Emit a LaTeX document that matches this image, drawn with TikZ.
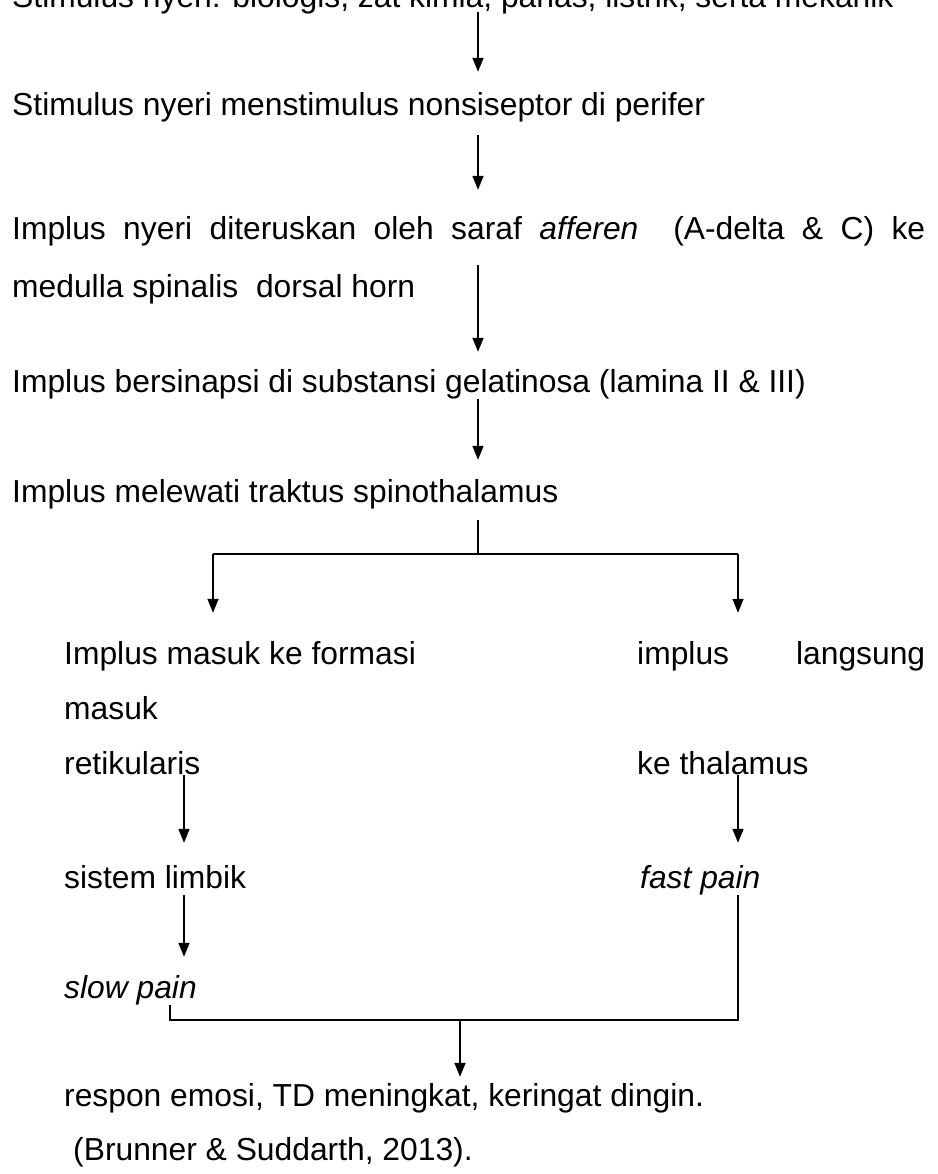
\documentclass[tikz,border=0pt]{standalone}
\usepackage{fontspec}
\setmainfont{Liberation Sans}
\usetikzlibrary{arrows.meta,calc}

\tikzset{
  txt/.style={anchor=base west,inner sep=0pt,text height=23pt,text depth=7pt,
    font=\fontsize{31.8}{38}\selectfont},
  flow/.style={line width=1.5pt},
  arr/.style={flow,-{Triangle[length=14pt,width=11pt]}},
}

\begin{document}
\begin{tikzpicture}[x=1pt,y=1pt]
  \useasboundingbox (0,0) rectangle (937,-1174);
  \coordinate (axis) at (478,0);
  \coordinate (lcol) at (184,0);
  \coordinate (rcol) at (738,0);
  % main column
  \node[txt] (nyeri) at (12,-8) {Stimulus nyeri: biologis, zat kimia, panas, listrik, serta mekanik};
  \node[txt] (perifer) at (12,-116) {Stimulus nyeri menstimulus nonsiseptor di perifer};
  \node[txt] (afferen) at (12,-240) {\makebox[913pt][s]{Implus nyeri diteruskan oleh saraf \textit{afferen}\ \ (A-delta \& C) ke}};
  \node[txt] (medulla) at (12,-297) {medulla spinalis\ \ dorsal horn};
  \node[txt] (sinaps) at (12,-392) {Implus bersinapsi di substansi gelatinosa (lamina II \& III)};
  \node[txt] (spino) at (12,-502) {Implus melewati traktus spinothalamus};
  \draw[arr,shorten <=-3pt,shorten >=21pt] (axis |- nyeri.south) -- (axis |- perifer.north);
  \draw[arr,shorten <=12pt,shorten >=27pt] (axis |- perifer.south) -- (axis |- afferen.north);
  \draw[arr,shorten <=18pt,shorten >=17pt] (axis |- afferen.south) -- (axis |- sinaps.north);
  \draw[arr,shorten >=19pt] (axis |- sinaps.south) -- (axis |- spino.north);
  % split
  \coordinate (forkL) at (213,-554);
  \coordinate (forkR) at (738,-554);
  \draw[flow,shorten <=11pt] (axis |- spino.south) -- (axis |- forkL);
  \draw[flow] (forkL) -- (forkR);
  % two branches
  \node[txt] (formasi) at (64,-664) {Implus masuk ke formasi};
  \node[txt] (masuk) at (64,-719) {masuk};
  \node[txt] (retik) at (64,-774) {retikularis};
  \node[txt] (langsung) at (637,-664) {\makebox[288pt][s]{implus langsung}};
  \node[txt] (thalamus) at (637,-774) {ke thalamus};
  \node[txt] (limbik) at (64,-888) {sistem limbik};
  \node[txt] (fast) at (640,-888) {\textit{fast pain}};
  \node[txt] (slow) at (64,-998) {\textit{slow pain}};
  \draw[arr,shorten >=28pt] (forkL) -- (forkL |- formasi.north);
  \draw[arr,shorten >=28pt] (forkR) -- (forkR |- langsung.north);
  \draw[arr,shorten <=-6pt,shorten >=22pt] (lcol |- retik.south) -- (lcol |- limbik.north);
  \draw[arr,shorten <=-6pt,shorten >=22pt] (rcol |- thalamus.south) -- (rcol |- fast.north);
  \draw[arr,shorten >=18pt] (lcol |- limbik.south) -- (lcol |- slow.north);
  % join
  \node[txt] (respon) at (64,-1106) {respon emosi, TD meningkat, keringat dingin.};
  \node[txt] (sumber) at (73,-1160) {(Brunner \& Suddarth, 2013).};
  \coordinate (joinL) at (170,-1020);
  \coordinate (joinR) at (738,-1020);
  \coordinate (joinM) at (460,-1020);
  \draw[flow] (joinL |- slow.south) -- (joinL) -- (joinR) -- (joinR |- fast.south);
  \draw[arr,shorten >=6pt] (joinM) -- (joinM |- respon.north);
\end{tikzpicture}
\end{document}
